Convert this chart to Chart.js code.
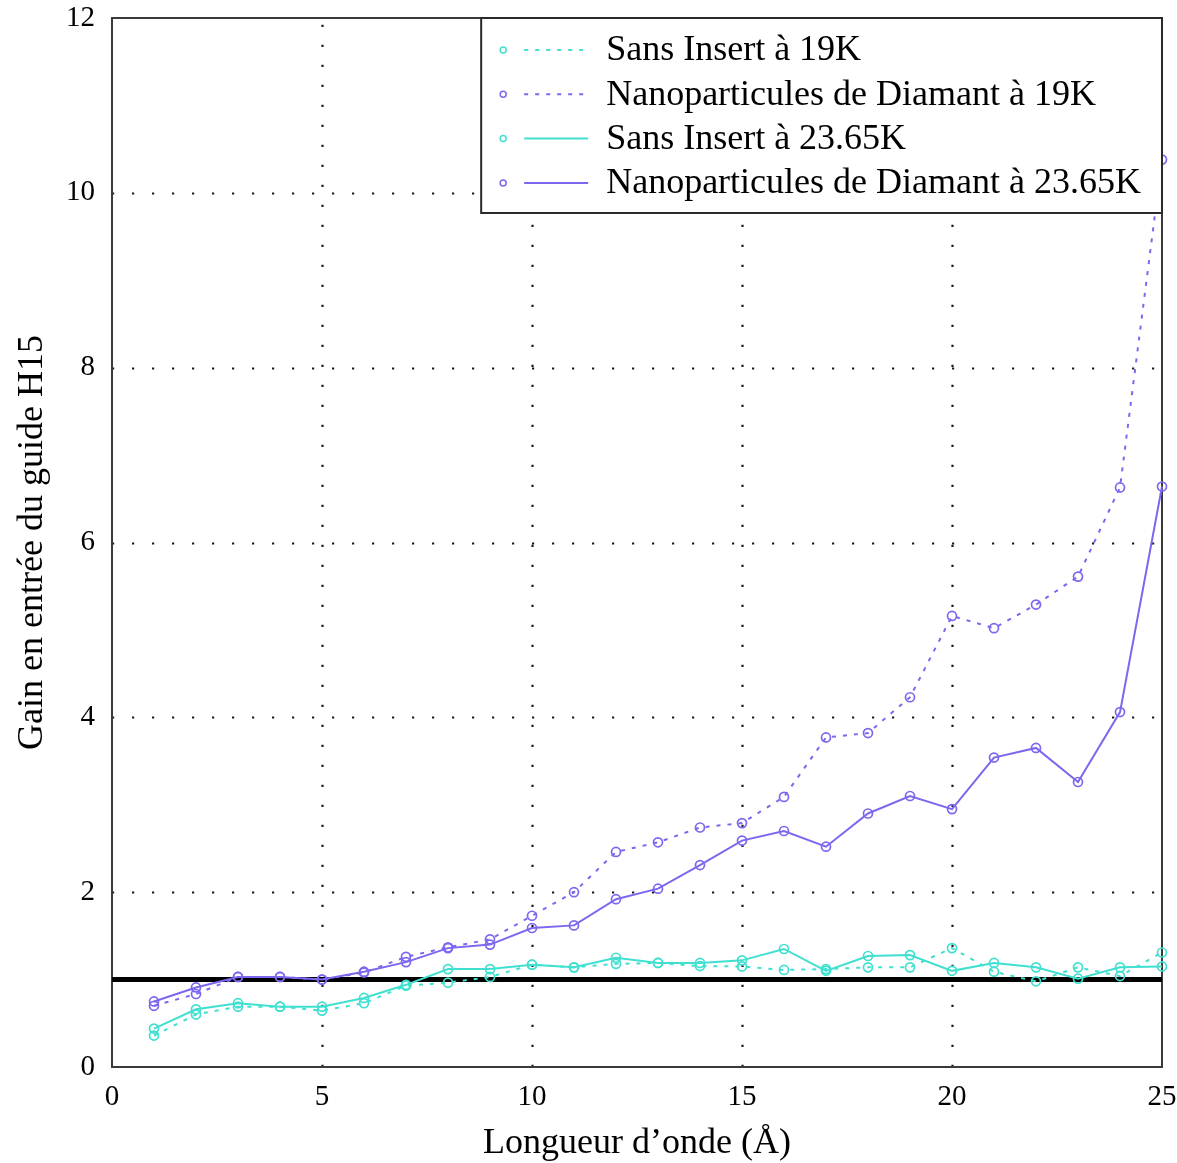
<!DOCTYPE html>
<html lang="fr">
<head>
<meta charset="utf-8">
<title>Gain en entrée du guide H15</title>
<script src="https://cdn.jsdelivr.net/npm/chart.js@4.4.1/dist/chart.umd.min.js"></script>
<style>
  html, body { margin: 0; padding: 0; background: #ffffff; }
  #wrap { width: 1177px; height: 1163px; }
</style>
</head>
<body>
<div id="wrap"><canvas id="chart" width="1177" height="1163"></canvas></div>
<script>
// Longueur d'onde (Å)
const wavelengths = [1, 2, 3, 4, 5, 6, 7, 8, 9, 10, 11, 12, 13, 14, 15, 16, 17, 18, 19, 20, 21, 22, 23, 24, 25];

// Gain, sans insert et avec nanoparticules de diamant, à 19 K et 23.65 K
const sansInsert19K = [0.36, 0.60, 0.69, 0.69, 0.645, 0.73, 0.93, 0.965, 1.03, 1.17, 1.14, 1.18, 1.19, 1.155, 1.15, 1.11, 1.12, 1.14, 1.14, 1.36, 1.09, 0.98, 1.14, 1.04, 1.31];
const nanoDiamant19K = [0.70, 0.835, 1.03, 1.03, 1.00, 1.08, 1.26, 1.37, 1.46, 1.73, 2.00, 2.46, 2.57, 2.74, 2.79, 3.09, 3.77, 3.82, 4.23, 5.16, 5.02, 5.29, 5.61, 6.63, 10.38];
const sansInsert2365K = [0.44, 0.66, 0.73, 0.69, 0.69, 0.79, 0.94, 1.12, 1.12, 1.17, 1.14, 1.25, 1.19, 1.19, 1.22, 1.35, 1.10, 1.27, 1.28, 1.10, 1.19, 1.14, 1.01, 1.14, 1.15];
const nanoDiamant2365K = [0.75, 0.91, 1.03, 1.03, 1.00, 1.09, 1.20, 1.36, 1.40, 1.59, 1.62, 1.92, 2.04, 2.31, 2.59, 2.70, 2.52, 2.90, 3.10, 2.95, 3.54, 3.65, 3.26, 4.06, 6.64];

// Reference level (gain = 1) and axis extent
const unityGain = 1;
const xRange = [0, 25];
const yRange = [0, 12];
const xTickValues = [0, 5, 10, 15, 20, 25];
const yTickValues = [0, 2, 4, 6, 8, 10, 12];

const seriesLabels = [
  'Sans Insert à 19K',
  'Nanoparticules de Diamant à 19K',
  'Sans Insert à 23.65K',
  'Nanoparticules de Diamant à 23.65K'
];

const CYAN = '#40e0d0';
const PURPLE = '#7b68ee';
const SERIF = '"Liberation Serif", "Times New Roman", "DejaVu Serif", serif';
const DOTTED = [4, 7];

const toPoints = (ys) => wavelengths.map((x, i) => ({ x, y: ys[i] }));

function series(label, values, color, dashed) {
  return {
    label,
    data: toPoints(values),
    borderColor: color,
    borderWidth: 2,
    borderDash: dashed ? DOTTED : [],
    pointStyle: 'circle',
    pointRadius: 4.5,
    pointBorderWidth: 1.7,
    pointBorderColor: color,
    pointBackgroundColor: 'rgba(255,255,255,0)',
    pointHoverRadius: 4.5,
    fill: false,
    tension: 0,
    clip: false,
    order: 1,
    legendDashed: dashed
  };
}

const datasets = [
  series(seriesLabels[0], sansInsert19K, CYAN, true),
  series(seriesLabels[1], nanoDiamant19K, PURPLE, true),
  series(seriesLabels[2], sansInsert2365K, CYAN, false),
  series(seriesLabels[3], nanoDiamant2365K, PURPLE, false),
  {
    label: 'unity',
    data: [{ x: xRange[0], y: unityGain }, { x: xRange[1], y: unityGain }],
    borderColor: '#000000',
    borderWidth: 5,
    pointRadius: 0,
    pointHoverRadius: 0,
    fill: false,
    order: 10,
    isReference: true
  }
];

// Dotted grid at the interior ticks and the plot frame, drawn beneath the data
const framePlugin = {
  id: 'frameGrid',
  beforeDatasetsDraw(chart) {
    const { ctx, chartArea: a, scales: { x, y } } = chart;
    ctx.save();
    ctx.strokeStyle = '#1a1a1a';
    ctx.lineWidth = 2.2;
    ctx.setLineDash([2.2, 17.8]);
    xTickValues.forEach(v => {
      if (v === xRange[0] || v === xRange[1]) return;
      const px = Math.round(x.getPixelForValue(v)) + 0.5;
      ctx.beginPath();
      ctx.moveTo(px, a.bottom);
      ctx.lineTo(px, a.top);
      ctx.stroke();
    });
    yTickValues.forEach(v => {
      if (v === yRange[0] || v === yRange[1]) return;
      const py = Math.round(y.getPixelForValue(v)) + 0.5;
      ctx.beginPath();
      ctx.moveTo(a.left, py);
      ctx.lineTo(a.right, py);
      ctx.stroke();
    });
    ctx.setLineDash([]);
    ctx.strokeStyle = '#3a3a3a';
    ctx.lineWidth = 2;
    ctx.strokeRect(a.left, a.top, a.right - a.left, a.bottom - a.top);
    ctx.restore();
  }
};

// Boxed legend in the top-right corner of the plot
const legendPlugin = {
  id: 'boxLegend',
  afterDatasetsDraw(chart) {
    const { ctx, chartArea: a } = chart;
    const entries = chart.data.datasets.filter(d => !d.isReference);
    ctx.save();
    ctx.font = '36px ' + SERIF;
    const textW = Math.max(...entries.map(d => ctx.measureText(d.label).width));
    const right = a.right;
    const top = a.top;
    const left = right - 21 - textW - 125;
    const height = 195;
    ctx.fillStyle = '#ffffff';
    ctx.fillRect(left, top, right - left, height);
    ctx.strokeStyle = '#2a2a2a';
    ctx.lineWidth = 2;
    ctx.strokeRect(left, top, right - left, height);

    entries.forEach((d, i) => {
      const cy = top + 32 + i * 44.3;
      // marker
      ctx.setLineDash([]);
      ctx.strokeStyle = d.borderColor;
      ctx.lineWidth = 1.5;
      ctx.beginPath();
      ctx.arc(left + 22, cy, 3, 0, Math.PI * 2);
      ctx.stroke();
      // line sample
      ctx.lineWidth = 2;
      ctx.setLineDash(d.legendDashed ? DOTTED : []);
      ctx.beginPath();
      ctx.moveTo(left + 43, cy);
      ctx.lineTo(left + 107, cy);
      ctx.stroke();
      ctx.setLineDash([]);
      // label
      ctx.fillStyle = '#000000';
      ctx.textAlign = 'left';
      ctx.textBaseline = 'middle';
      ctx.fillText(d.label, left + 125, cy + 1);
    });
    ctx.restore();
  }
};

new Chart(document.getElementById('chart'), {
  type: 'line',
  data: { datasets },
  plugins: [framePlugin, legendPlugin],
  options: {
    responsive: false,
    animation: false,
    events: [],
    layout: { padding: { left: 0, top: 18, right: 15, bottom: 0 } },
    plugins: {
      legend: { display: false },
      tooltip: { enabled: false }
    },
    scales: {
      x: {
        type: 'linear',
        min: xRange[0],
        max: xRange[1],
        afterBuildTicks: s => { s.ticks = xTickValues.map(v => ({ value: v })); },
        afterFit: s => { s.height = 96; s.paddingLeft = 0; s.paddingRight = 0; },
        grid: { display: false, drawTicks: false },
        border: { display: false },
        ticks: {
          color: '#000000',
          padding: 13,
          maxRotation: 0,
          autoSkip: false,
          font: { family: SERIF, size: 29 }
        },
        title: {
          display: true,
          text: 'Longueur d’onde (Å)',
          color: '#000000',
          font: { family: SERIF, size: 36, lineHeight: 1 },
          padding: { top: 0, bottom: 1 }
        }
      },
      y: {
        type: 'linear',
        min: yRange[0],
        max: yRange[1],
        afterBuildTicks: s => { s.ticks = yTickValues.map(v => ({ value: v })); },
        afterFit: s => { s.width = 112; s.paddingTop = 0; s.paddingBottom = 0; },
        grid: { display: false, drawTicks: false },
        border: { display: false },
        ticks: {
          color: '#000000',
          padding: 17,
          autoSkip: false,
          font: { family: SERIF, size: 29 }
        },
        title: {
          display: true,
          text: 'Gain en entrée du guide H15',
          color: '#000000',
          font: { family: SERIF, size: 36, lineHeight: 1 },
          padding: { top: 15, bottom: 0 }
        }
      }
    }
  }
});
</script>
</body>
</html>
